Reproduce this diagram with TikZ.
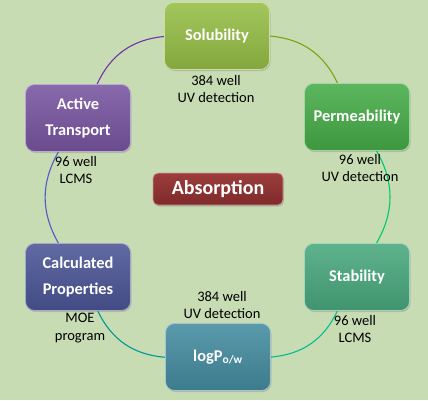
\documentclass[tikz,border=0pt]{standalone}
\usepackage{fontspec}
\setmainfont{Carlito}
\usetikzlibrary{shadows}
\pgfdeclarelayer{bglayer}
\pgfdeclarelayer{linelayer}
\pgfsetlayers{bglayer,linelayer,main}
\definecolor{bg}{RGB}{200,220,180}
\definecolor{csol}{RGB}{150,190,70}
\definecolor{cperm}{RGB}{70,172,72}
\definecolor{cstab}{RGB}{72,168,125}
\definecolor{clogp}{RGB}{68,140,160}
\definecolor{ccalc}{RGB}{75,85,150}
\definecolor{cact}{RGB}{120,85,160}
\definecolor{cabs}{RGB}{150,50,50}
\definecolor{lsp}{RGB}{130,160,20}
\definecolor{lps}{RGB}{0,200,110}
\definecolor{lsl}{RGB}{0,190,140}
\definecolor{llc}{RGB}{0,150,150}
\definecolor{lca}{RGB}{80,90,200}
\definecolor{las}{RGB}{110,50,170}
\begin{document}
\begin{tikzpicture}[x=1pt,y=-1pt,
  box/.style={rounded corners=9pt, minimum width=105pt, minimum height=67pt,
    align=center, text=white, font=\fontsize{16.4}{26}\selectfont\bfseries,
    top color=#1!88!white, bottom color=#1!88!black, draw=#1!50!white, line width=0.8pt,
    drop shadow={opacity=0.35, shadow xshift=1pt, shadow yshift=-1.5pt}},
  lbl/.style={align=center, font=\fontsize{14.5}{17.5}\selectfont, text=black},
  arcline/.style={line width=1.1pt, bend left=30, draw=#1}]
\useasboundingbox (0,0) rectangle (428,400);
\begin{pgfonlayer}{bglayer}
\fill[bg] (0,0) rectangle (428,400);
\end{pgfonlayer}
\node[box=csol] (sol) at (217,36) {Solubility};
\node[box=cperm] (perm) at (357,117) {Permeability};
\node[box=cstab] (stab) at (357,277) {Stability};
\node[box=clogp] (logp) at (218,357) {logP\textsubscript{o/w}};
\node[box=ccalc] (calc) at (78,277) {Calculated\\Properties};
\node[box=cact] (act) at (78,118) {Active\\Transport};
\begin{pgfonlayer}{linelayer}
\draw[arcline=lsp] (sol) to (perm);
\draw[arcline=lps] (perm) to (stab);
\draw[arcline=lsl] (stab) to (logp);
\draw[arcline=llc] (logp) to (calc);
\draw[arcline=lca] (calc) to (act);
\draw[arcline=las] (act) to (sol);
\end{pgfonlayer}
\node[box=cabs, top color=cabs!95!white, bottom color=cabs!85!black,
  minimum width=130pt, minimum height=32pt, rounded corners=5pt,
  font=\fontsize{20}{22}\selectfont\bfseries] (abs) at (218,189) {Absorption};
\node[lbl] (lsol) at (216,89) {384 well\\UV detection};
\node[lbl] (lperm) at (360,168) {96 well\\UV detection};
\node[lbl] (lstab) at (355,329) {96 well\\LCMS};
\node[lbl] (llogp) at (222,305) {384 well\\UV detection};
\node[lbl] (lcalc) at (80,328) {MOE\\program};
\node[lbl] (lact) at (76,170) {96 well\\LCMS};
\end{tikzpicture}
\end{document}
